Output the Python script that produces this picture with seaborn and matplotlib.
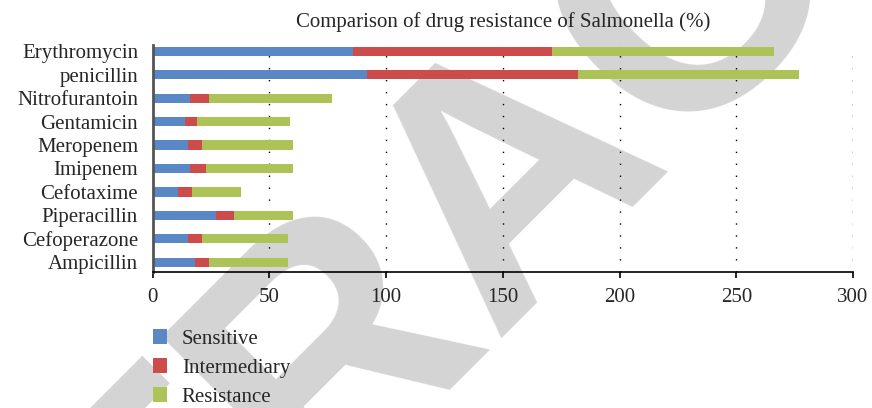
import numpy as np
import pandas as pd
import matplotlib
matplotlib.use('Agg')
import matplotlib.pyplot as plt
import seaborn as sns
from matplotlib.patches import Patch

# Data
drugs = ['Erythromycin', 'penicillin', 'Nitrofurantoin', 'Gentamicin', 'Meropenem',
         'Imipenem', 'Cefotaxime', 'Piperacillin', 'Cefoperazone', 'Ampicillin']
sensitive = [86, 92, 16, 14, 15, 16, 11, 27, 15, 18]
intermediary = [85, 90, 8, 5, 6, 7, 6, 8, 6, 6]
resistance = [95, 95, 53, 40, 39, 37, 21, 25, 37, 34]
series_names = ['Sensitive', 'Intermediary', 'Resistance']
x_ticks = [0, 50, 100, 150, 200, 250, 300]

colors = ['#5a88c6', '#cb4c4a', '#adc357']

df = pd.DataFrame({'drug': drugs, 'Sensitive': sensitive,
                   'Intermediary': intermediary, 'Resistance': resistance})
df['s_i'] = df['Sensitive'] + df['Intermediary']
df['total'] = df['s_i'] + df['Resistance']

sns.set_style('white')
plt.rcParams['font.family'] = ['Liberation Serif', 'DejaVu Serif']

fig = plt.figure(figsize=(8.72, 4.08), dpi=100)
fig.patch.set_facecolor('white')

# retraction watermark behind the chart
fig.text(579 / 872, 1 - 238 / 408, 'RETRACTED', rotation=45, rotation_mode='anchor',
         ha='center', va='baseline', fontsize=253, fontweight='bold',
         family='Liberation Sans', color='#d4d4d4', zorder=-5)

ax = fig.add_axes([0.1751, 0.3326, 0.8031, 0.5571])
ax.set_facecolor('none')

# stacked bars: draw cumulative totals back to front
sns.barplot(data=df, x='total', y='drug', color=colors[2], orient='h', width=0.4,
            saturation=1, linewidth=0, ax=ax)
sns.barplot(data=df, x='s_i', y='drug', color=colors[1], orient='h', width=0.4,
            saturation=1, linewidth=0, ax=ax)
sns.barplot(data=df, x='Sensitive', y='drug', color=colors[0], orient='h', width=0.4,
            saturation=1, linewidth=0, ax=ax)

ax.set_xlim(0, 300)
ax.set_ylim(9.43, -0.27)
ax.set_xticks(x_ticks)
ax.set_xlabel('')
ax.set_ylabel('')
ax.set_axisbelow(True)
ax.xaxis.grid(True, color='black', linestyle=(0, (1, 7.6)), linewidth=1.0)
ax.yaxis.grid(False)

for s in ['top', 'right']:
    ax.spines[s].set_visible(False)
ax.spines['left'].set_color('#555555')
ax.spines['left'].set_linewidth(2)
ax.spines['bottom'].set_color('black')
ax.spines['bottom'].set_linewidth(1.2)

ax.tick_params(axis='x', direction='out', length=4.5, width=1.2, color='black',
               labelsize=15, pad=7, bottom=True)
ax.tick_params(axis='y', length=0, labelsize=15, pad=10.5)

ax.set_title('Comparison of drug resistance of Salmonella (%)', fontsize=15, pad=13)

handles = [Patch(facecolor=c, edgecolor='none') for c in colors]
fig.legend(handles, series_names, loc='upper left',
           bbox_to_anchor=(152.7 / 872, 1 - 329 / 408), frameon=False, fontsize=15,
           handlelength=0.7, handleheight=0.7, handletextpad=0.7, labelspacing=0.45,
           borderpad=0, borderaxespad=0)

fig.savefig('out.png', dpi=100)
